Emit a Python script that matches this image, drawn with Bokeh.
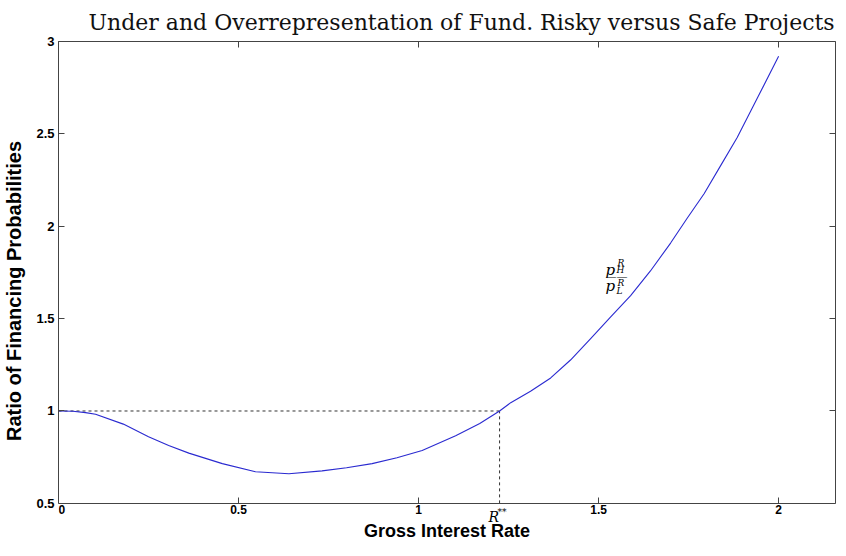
from bokeh.plotting import figure
from bokeh.models import Range1d, LinearAxis, FixedTicker, Label, CustomJSTickFormatter
from bokeh.embed import file_html
from bokeh.resources import INLINE

# values
rate = [0.0, 0.04, 0.075, 0.103, 0.18, 0.25, 0.306, 0.362, 0.455, 0.547, 0.64,
        0.732, 0.80, 0.871, 0.94, 1.01, 1.103, 1.17, 1.225, 1.256, 1.311, 1.367,
        1.422, 1.478, 1.533, 1.589, 1.644, 1.70, 1.746, 1.793, 1.839, 1.885, 1.941, 2.0]
ratio = [1.0, 0.999, 0.991, 0.982, 0.929, 0.861, 0.813, 0.772, 0.715, 0.671, 0.660,
         0.676, 0.693, 0.715, 0.747, 0.786, 0.866, 0.932, 1.0, 1.045, 1.107, 1.179,
         1.276, 1.392, 1.508, 1.624, 1.758, 1.909, 2.043, 2.176, 2.328, 2.48, 2.694, 2.92]
R_STAR = 1.225
REF_LEVEL = 1.0
x_ticks = [0, 0.5, 1, 1.5, 2]
x_label_ticks = [0.5, 1, 1.5, 2]
y_ticks = [0.5, 1, 1.5, 2, 2.5, 3]
X_END = 2.158
Y_START, Y_END = 0.5, 3.0
Y_VIEW_START = 0.299   # lower edge of the drawing area (room for the x labels)
LABEL_X = 1.519
LABEL_Y = 1.743

TITLE = "Under and Overrepresentation of Fund. Risky versus Safe Projects"
X_LABEL = "Gross Interest Rate"
Y_LABEL = "Ratio of Financing Probabilities"

p = figure(width=838, height=540, output_backend="svg", toolbar_location=None,
           x_range=Range1d(0, X_END), y_range=Range1d(Y_VIEW_START, Y_END),
           x_axis_location=None, y_axis_location=None,
           min_border_left=50, min_border_right=3, min_border_top=0, min_border_bottom=0)
p.grid.visible = False
p.outline_line_color = None

p.title.text = TITLE
p.title.text_font = "DejaVu Serif"
p.title.text_font_style = "normal"
p.title.text_font_size = "22px"
p.title.text_color = "#111111"
p.title.align = "left"
p.title.offset = 30
p.title.standoff = 14

AX_COLOR = "#444444"

def make_axis(ticks, show_labels):
    ax = LinearAxis(ticker=FixedTicker(ticks=ticks))
    ax.axis_line_color = AX_COLOR
    ax.major_tick_line_color = AX_COLOR
    ax.major_tick_in = 6
    ax.major_tick_out = 0
    ax.minor_tick_line_color = None
    ax.major_label_text_font = "Liberation Sans"
    ax.major_label_text_font_style = "bold"
    ax.major_label_text_font_size = "13px"
    ax.major_label_text_color = "black"
    ax.axis_label_text_font = "Liberation Sans"
    ax.axis_label_text_font_style = "bold"
    ax.axis_label_text_font_size = "20px"
    ax.axis_label_text_color = "black"
    if not show_labels:
        ax.formatter = CustomJSTickFormatter(code="return ''")
        ax.major_label_text_font_size = "0px"
        ax.major_label_standoff = 0
    return ax

# bottom axis, drawn at y = 0.5 inside the (taller) drawing area
xb = make_axis(x_label_ticks, True)
xb.major_label_text_font_size = "12px"
xb.major_label_standoff = 2
xb.fixed_location = Y_START
xb.bounds = (0, X_END)
p.add_layout(xb, "below")

yl = make_axis(y_ticks, True)
yl.axis_label = Y_LABEL
yl.major_label_standoff = 4
yl.axis_label_standoff = 8
yl.bounds = (Y_START, Y_END)
p.add_layout(yl, "left")

p.add_layout(make_axis(x_ticks, False), "above")
yr = make_axis(y_ticks, False)
yr.bounds = (Y_START, Y_END)
p.add_layout(yr, "right")

# dashed reference lines
p.line([0, R_STAR], [REF_LEVEL, REF_LEVEL], line_color="#333333", line_dash="3 3", line_width=1)
p.line([R_STAR, R_STAR], [Y_START, REF_LEVEL], line_color="#333333", line_dash="3 3", line_width=1)

# curve
p.line(rate, ratio, line_color="#2a2ad0", line_width=1.1)

def lab(x, y, text, dx, dy, size, style="italic", font="DejaVu Serif", align="left", base="alphabetic"):
    l = Label(x=x, y=y, x_units="data", y_units="data", text=text, x_offset=dx, y_offset=dy,
              text_font=font, text_font_style=style, text_font_size=size,
              text_color="black", text_baseline=base, text_align=align)
    p.add_layout(l)

# fraction p_H^R / p_L^R
lab(LABEL_X, LABEL_Y, "p", 0, 4, "15px")
lab(LABEL_X, LABEL_Y, "R", 12, 11, "9px")
lab(LABEL_X, LABEL_Y, "H", 11, 4, "9px")
lab(LABEL_X, LABEL_Y, "——", 0, -3, "11px", style="normal")
lab(LABEL_X, LABEL_Y, "p", 0, -12, "15px")
lab(LABEL_X, LABEL_Y, "R", 12, -9, "9px")
lab(LABEL_X, LABEL_Y, "L", 11, -17, "9px")

# "0" tick label at the origin
lab(x_ticks[0], Y_START, "0", 0, -2, "12px", style="bold", font="Liberation Sans", base="top")

# R** below the axis
lab(R_STAR, Y_START, "R", -11, -14, "14px")
lab(R_STAR, Y_START, "**", -2, -9, "9px", style="normal")

# x axis title
lab(X_END / 2, Y_START, X_LABEL, 0, -28, "18px", style="bold", font="Liberation Sans", align="center")

open("out.html", "w").write(file_html(p, INLINE))
